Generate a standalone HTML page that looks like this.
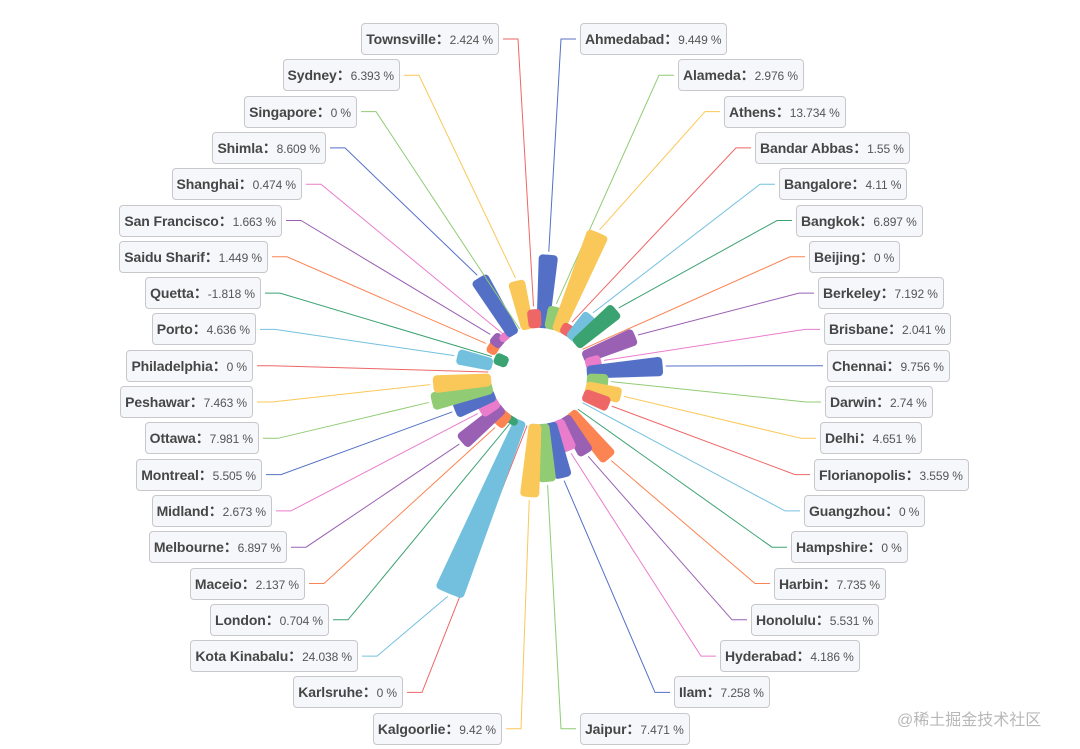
<!DOCTYPE html>
<html><head><meta charset="utf-8"><style>
html,body{margin:0;padding:0;background:#fff;}
#wrap{position:relative;width:1080px;height:749px;overflow:hidden;font-family:"Liberation Sans","Noto Sans CJK SC",sans-serif;}
svg{position:absolute;left:0;top:0;}
.lbl{position:absolute;height:32px;line-height:31px;padding:0 5px 0 4px;border:1px solid #c8c8cc;border-radius:4px;background:#f6f7fa;white-space:nowrap;color:#555;font-size:12px;box-sizing:border-box;letter-spacing:-0.1px;}
.lbl b{font-size:14px;color:#464646;}
.wm{position:absolute;left:897px;top:706px;font-size:16px;color:#b8b8b8;font-family:"Liberation Sans","Noto Sans CJK SC",sans-serif;}
</style></head><body>
<div id="wrap">
<svg id="chart" width="1080" height="749"></svg>
<div class="wm">@稀土掘金技术社区</div>
</div>
<script>
const cities=["Ahmedabad","Alameda","Athens","Bandar Abbas","Bangalore","Bangkok","Beijing","Berkeley","Brisbane","Chennai","Darwin","Delhi","Florianopolis","Guangzhou","Hampshire","Harbin","Honolulu","Hyderabad","Ilam","Jaipur","Kalgoorlie","Karlsruhe","Kota Kinabalu","London","Maceio","Melbourne","Midland","Montreal","Ottawa","Peshawar","Philadelphia","Porto","Quetta","Saidu Sharif","San Francisco","Shanghai","Shimla","Singapore","Sydney","Townsville"];
const values=[9.449,2.976,13.734,1.55,4.11,6.897,0,7.192,2.041,9.756,2.74,4.651,3.559,0,0,7.735,5.531,4.186,7.258,7.471,9.42,0,24.038,0.704,2.137,6.897,2.673,5.505,7.981,7.463,0,4.636,-1.818,1.449,1.663,0.474,8.609,0,6.393,2.424];
const palette=["#5470c6","#91cc75","#fac858","#ee6666","#73c0de","#3ba272","#fc8452","#9a60b4","#ea7ccc"];
// layout (not data)
const CX=539,CY=376,R0=48,K=7.8;
const rightEdge=[580,678,724,755,779,796,809,818,824,827,825,820,814,804,791,774,751,720,674,580];
const leftEdge=[499,400,357,326,302,282,268,261,256,253,253,259,262,272,287,305,329,358,403,502];
function rScale(v){return R0+K*v;}
function pt(r,aDeg){const a=aDeg*Math.PI/180;return [CX+r*Math.sin(a),CY-r*Math.cos(a)];}
const svg=document.getElementById('chart');
const NS='http://www.w3.org/2000/svg';
const n=cities.length,step=360/n,half=2.7,SW=8;
const wrap=document.getElementById('wrap');
cities.forEach((c,i)=>{
  const col=palette[i%9];
  const ang=(i+0.5)*step;
  let r1=rScale(0),r2=rScale(values[i]);
  if(r2<r1){const t=r1;r1=r2;r2=t;}
  if(values[i]!==0){
    const a=r1+SW/2,b=Math.max(r2-SW/2,a+0.1);
    const p1=pt(a,ang-half),p2=pt(b,ang-half),p3=pt(b,ang+half),p4=pt(a,ang+half);
    const d=`M${p1[0]},${p1[1]}L${p2[0]},${p2[1]}A${b},${b} 0 0 1 ${p3[0]},${p3[1]}L${p4[0]},${p4[1]}A${a},${a} 0 0 0 ${p1[0]},${p1[1]}Z`;
    const path=document.createElementNS(NS,'path');
    path.setAttribute('d',d);path.setAttribute('fill',col);path.setAttribute('stroke',col);
    path.setAttribute('stroke-width',SW);path.setAttribute('stroke-linejoin','round');
    
    
    svg.appendChild(path);
  }
  const right=i<20;
  const k=right?i:(n-1-i);
  const y=39+k*36.3;
  const edge=right?rightEdge[k]:leftEdge[k];
  const ex=right?edge-19:edge+19;
  const tipR=Math.max(rScale(values[i]),rScale(0))+3;
  const s=pt(tipR,ang);
  const line=document.createElementNS(NS,'polyline');
  line.setAttribute('points',`${s[0]},${s[1]} ${ex},${y} ${right?edge-4:edge+4},${y}`);
  line.setAttribute('fill','none');line.setAttribute('stroke',col);line.setAttribute('stroke-width','1');
  
  
  svg.appendChild(line);
  const box=document.createElement('div');
  box.className='lbl';
  box.innerHTML='<b>'+c+'：</b>'+values[i]+' %';
  box.style.top=(y-16)+'px';
  if(right)box.style.left=edge+'px';else box.style.right=(1080-edge)+'px';
  
  
  wrap.appendChild(box);
});
</script>
</body></html>
